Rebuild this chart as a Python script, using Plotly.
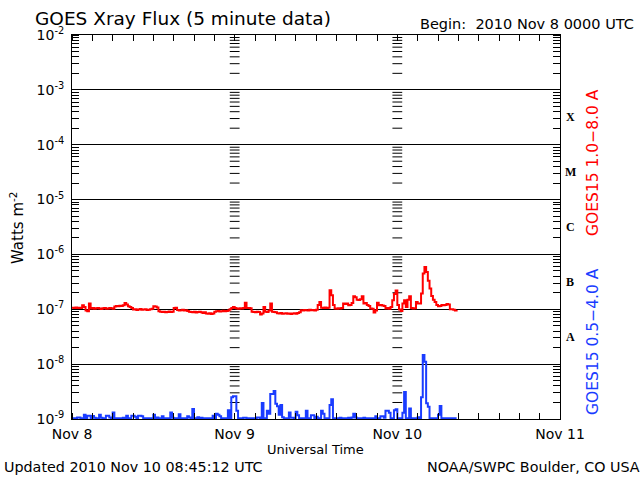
import pandas as pd
import plotly.graph_objects as go

# ---- data (15-minute samples) ----
# GOES15 1.0-8.0 A, in units of 1e-7 W m^-2
red_nov8 = [1.07, 1.05, 1.08, 1.06, 1.07, 1.05, 1.18, 1.10, 0.95, 0.92,
            1.27, 1.03, 1.05, 1.02, 1.04, 1.06, 1.03, 1.01, 1.04, 1.05,
            1.02, 1.03, 1.06, 1.04, 1.02, 1.12, 1.15, 1.14, 1.16, 1.15,
            1.18, 1.30, 1.22, 1.13, 1.10, 1.05, 0.99, 1.00, 0.97, 0.99,
            1.01, 0.98, 0.99, 1.00, 0.97, 0.98, 1.00, 1.02, 1.13, 1.12,
            1.08, 0.92, 0.90, 0.89, 0.90, 0.88, 0.89, 0.91, 0.89, 0.90,
            1.05, 1.07, 0.97, 0.95, 0.96, 0.98, 0.95, 0.96, 0.93, 0.90,
            0.89, 0.88, 0.90, 0.87, 0.89, 0.90, 0.88, 0.86, 0.88, 0.84,
            0.83, 0.85, 0.82, 0.84, 0.90, 0.92, 0.93, 0.91, 0.92, 0.94,
            0.92, 0.93, 0.95, 1.00, 1.05, 1.10]
red_nov9 = [1.05, 1.03, 1.02, 1.04, 1.03, 1.05, 1.32, 1.06, 1.05, 1.04,
            0.90, 0.89, 0.88, 0.90, 0.89, 0.80, 0.84, 1.10, 0.90, 0.89,
            0.95, 1.27, 0.90, 0.89, 0.88, 0.85, 0.84, 0.86, 0.83, 0.84,
            0.85, 0.83, 0.84, 0.82, 0.84, 0.85, 0.83, 0.86, 0.88, 0.96,
            0.95, 0.97, 0.96, 0.95, 0.98, 0.96, 0.97, 0.95, 0.98, 1.20,
            1.36, 1.07, 1.06, 1.08, 1.05, 1.07, 2.22, 1.80, 1.20, 1.03,
            1.02, 1.04, 1.03, 1.05, 1.27, 1.25, 1.28, 1.18, 1.20, 1.30,
            1.73, 1.65, 1.50, 1.48, 1.52, 1.73, 1.27, 1.30, 1.20, 1.15,
            1.03, 1.02, 0.87, 0.95, 1.32, 1.18, 1.20, 1.17, 1.15, 1.03,
            1.05, 1.02, 1.10, 1.46, 1.90, 2.20]
red_nov10 = [1.20, 0.99, 0.93, 1.27, 1.46, 1.10, 1.50, 1.73, 1.05, 1.03,
             1.04, 1.36, 1.27, 1.28, 1.93, 4.50, 5.90, 4.80, 3.30, 2.40,
             1.75, 1.50, 1.36, 1.20, 1.13, 1.15, 1.20, 1.18, 1.20, 1.25,
             1.22, 1.00, 1.00, 0.98, 0.95, 0.97]

# GOES15 0.5-4.0 A, in units of 1e-9 W m^-2
blue_nov8 = [1.03, 1.03, 1.03, 1.07, 1.07, 1.03, 1.03, 1.20, 1.03, 1.15,
             1.15, 1.03, 1.13, 1.05, 1.03, 1.03, 1.20, 1.05, 1.03, 1.03,
             1.15, 1.15, 1.07, 1.03, 1.32, 1.03, 1.03, 1.03, 1.03, 1.03,
             1.05, 1.03, 1.15, 1.03, 1.03, 1.15, 1.15, 1.10, 1.03, 1.15,
             1.15, 1.12, 1.03, 1.03, 1.03, 1.03, 1.03, 1.03, 1.20, 1.03,
             1.07, 1.03, 1.03, 1.12, 1.03, 1.03, 1.03, 1.03, 1.32, 1.05,
             1.03, 1.03, 1.03, 1.22, 1.03, 1.03, 1.03, 1.03, 1.12, 1.07,
             1.03, 1.52, 1.03, 1.03, 1.08, 1.03, 1.05, 1.03, 1.03, 1.03,
             1.03, 1.03, 1.03, 1.15, 1.03, 1.25, 1.20, 1.12, 1.03, 1.03,
             1.03, 1.03, 1.45, 1.03, 2.50, 2.60]
blue_nov9 = [2.60, 1.42, 1.03, 1.03, 1.03, 1.05, 1.05, 1.03, 1.03, 1.03,
             1.03, 1.03, 1.03, 1.07, 1.07, 1.03, 1.96, 1.03, 1.03, 1.41,
             1.25, 2.86, 2.86, 3.24, 1.90, 1.70, 1.20, 1.80, 1.08, 1.03,
             1.03, 1.03, 1.32, 1.05, 1.05, 1.03, 1.35, 1.17, 1.03, 1.03,
             1.03, 1.03, 1.41, 1.03, 1.03, 1.17, 1.17, 1.03, 1.10, 1.03,
             1.03, 1.41, 1.25, 1.03, 1.03, 1.03, 1.80, 2.30, 1.03, 1.03,
             1.03, 1.03, 1.05, 1.03, 1.03, 1.03, 1.03, 1.05, 1.03, 1.07,
             1.25, 1.07, 1.03, 1.03, 1.03, 1.03, 1.05, 1.03, 1.03, 1.03,
             1.03, 1.03, 1.03, 1.12, 1.03, 1.03, 1.12, 1.12, 1.05, 1.41,
             1.41, 1.30, 1.03, 1.03, 1.45, 1.50]
blue_nov10 = [1.03, 1.03, 1.03, 1.30, 3.10, 1.03, 1.03, 1.55, 1.03, 1.03,
              1.03, 1.03, 1.08, 1.03, 2.50, 14.7, 11.1, 1.93, 1.68, 1.03,
              1.03, 1.03, 1.03, 1.03, 1.20, 1.73, 1.03, 1.03, 1.03, 1.03,
              1.03, 1.03, 1.03, 1.03, 1.03, 1.03]

start_time = "2010-11-08 00:00"
sample_step = "15min"
day_labels = ["Nov 8", "Nov 9", "Nov 10", "Nov 11"]
day_ticks = ["2010-11-08", "2010-11-09", "2010-11-10", "2010-11-11"]
decade_exps = [-9, -8, -7, -6, -5, -4, -3, -2]
decade_labels = ["10<sup>-9</sup>", "10<sup>-8</sup>", "10<sup>-7</sup>", "10<sup>-6</sup>",
                 "10<sup>-5</sup>", "10<sup>-4</sup>", "10<sup>-3</sup>", "10<sup>-2</sup>"]
minor_digits = [2, 3, 4, 5, 6, 7, 8, 9]
flare_classes = ["A", "B", "C", "M", "X"]
flare_class_pos = [-7.5, -6.5, -5.5, -4.5, -3.5]

# ---- build ----
red = [v * 1e-7 for v in red_nov8 + red_nov9 + red_nov10]
blue = [v * 1e-9 for v in blue_nov8 + blue_nov9 + blue_nov10]
times = pd.date_range(start_time, periods=len(red), freq=sample_step)

fig = go.Figure()

# dashed "tick columns" at the inner day boundaries
dash_x, dash_y = [], []
for d in day_ticks[1:3]:
    for e in decade_exps[:-1]:
        for k in minor_digits:
            dash_x.append(d)
            dash_y.append(k * 10.0 ** e)
fig.add_trace(go.Scatter(x=dash_x, y=dash_y, mode="markers", hoverinfo="skip",
                         marker=dict(symbol="line-ew", size=7, color="black",
                                     line=dict(color="black", width=1))))

fig.add_trace(go.Scatter(x=times, y=blue, mode="lines",
                         line=dict(color="#1a3cff", width=2, shape="hv")))
fig.add_trace(go.Scatter(x=times, y=red, mode="lines",
                         line=dict(color="#ff0000", width=2, shape="hv")))

fig.update_layout(
    width=640, height=480,
    margin=dict(l=72, r=80, t=35, b=61),
    paper_bgcolor="white", plot_bgcolor="white",
    showlegend=False,
    font=dict(family="DejaVu Sans", color="black", size=13),
)
fig.update_xaxes(
    type="date", range=[day_ticks[0], day_ticks[-1]],
    tickmode="array", tickvals=day_ticks, ticktext=day_labels,
    ticks="", showgrid=False, zeroline=False,
    showline=True, linecolor="black", linewidth=1, mirror="allticks",
    minor=dict(dtick=3 * 3600 * 1000, ticks="inside", ticklen=6,
               tickcolor="black", tickwidth=1, showgrid=False),
    tickfont=dict(size=14),
    ticklabelstandoff=2,
)
fig.update_yaxes(
    type="log", range=[decade_exps[0], decade_exps[-1]],
    tickmode="array", tickvals=[10.0 ** e for e in decade_exps], ticktext=decade_labels,
    ticks="", showgrid=True, gridcolor="black", gridwidth=1, zeroline=False,
    showline=True, linecolor="black", linewidth=1, mirror="allticks",
    minor=dict(dtick="D1", ticks="inside", ticklen=7, tickcolor="black",
               tickwidth=1, showgrid=False),
    tickfont=dict(size=14),
    ticklabelstandoff=4,
)

annos = [
    dict(text="GOES Xray Flux (5 minute data)", x=33, y=18, font=dict(size=18.5)),
    dict(text="Begin:  2010 Nov 8 0000 UTC", x=418, y=24, font=dict(size=14.5)),
    dict(text="Updated 2010 Nov 10 08:45:12 UTC", x=2, y=467, font=dict(size=14.3)),
    dict(text="NOAA/SWPC Boulder, CO USA", x=425, y=467, font=dict(size=14.3)),
]
for a in annos:
    fig.add_annotation(text=a["text"], xref="paper", yref="paper",
                       x=(a["x"] - 72) / 488, y=1 - (a["y"] - 35) / 384,
                       xanchor="left", yanchor="middle", showarrow=False,
                       font=a["font"])

fig.add_annotation(text="Universal Time", xref="paper", yref="paper",
                   x=(315 - 72) / 488, y=1 - (449 - 35) / 384,
                   xanchor="center", yanchor="middle", showarrow=False,
                   font=dict(size=13))
fig.add_annotation(text="Watts m<sup>-2</sup>", xref="paper", yref="paper",
                   x=(17 - 72) / 488, y=1 - (228 - 35) / 384, textangle=-90,
                   xanchor="center", yanchor="middle", showarrow=False,
                   font=dict(size=15))
fig.add_annotation(text="GOES15 1.0\u22128.0 A", xref="paper", yref="paper",
                   x=(593 - 72) / 488, y=1 - (163 - 35) / 384, textangle=-90,
                   xanchor="center", yanchor="middle", showarrow=False,
                   font=dict(size=15.5, color="#ff0000"))
fig.add_annotation(text="GOES15 0.5\u22124.0 A", xref="paper", yref="paper",
                   x=(593 - 72) / 488, y=1 - (342 - 35) / 384, textangle=-90,
                   xanchor="center", yanchor="middle", showarrow=False,
                   font=dict(size=15.5, color="#1a3cff"))
for c, p in zip(flare_classes, flare_class_pos):
    fig.add_annotation(text="<b>" + c + "</b>", xref="paper", yref="y",
                       x=(570 - 72) / 488, y=p, xanchor="center", yanchor="middle",
                       showarrow=False,
                       font=dict(size=12, family="Liberation Serif", color="black"))

fig.write_html("out.html", config={"displayModeBar": False},
               post_script="document.body.style.margin='0';")
